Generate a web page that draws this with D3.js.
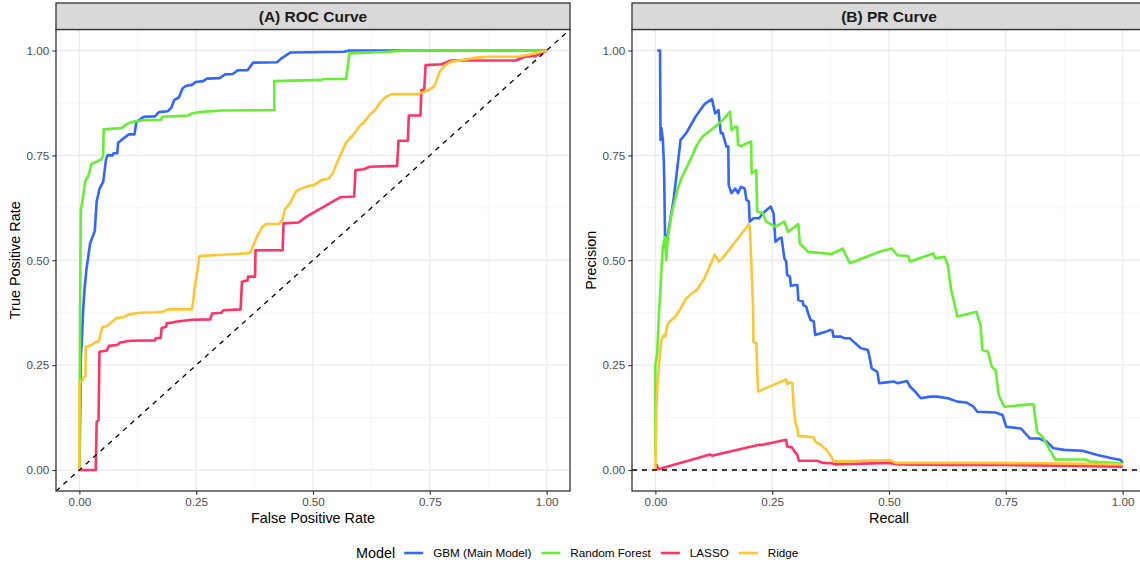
<!DOCTYPE html>
<html><head><meta charset="utf-8">
<script src="https://cdn.jsdelivr.net/npm/d3@7"></script>
<style>body{margin:0;background:#fff}svg{display:block}text{font-family:"Liberation Sans",Arial,sans-serif}</style>
</head><body><svg id="c" width="1140" height="566"></svg>
<script>
// ---------- data ----------
const models = ["GBM (Main Model)", "Random Forest", "LASSO", "Ridge"];
const colors = ["#3366FF", "#66EE33", "#FF3366", "#FFC533"];
const ticks = [0, 0.25, 0.5, 0.75, 1];
const tickLabels = ["0.00", "0.25", "0.50", "0.75", "1.00"];

const rocGBM = [[0,0],[0.002,0.15],[0.003,0.27],[0.005,0.30],[0.008,0.38],[0.011,0.43],[0.015,0.477],[0.023,0.54],[0.033,0.57],[0.037,0.64],[0.043,0.67],[0.051,0.687],[0.057,0.74],[0.060,0.75],[0.071,0.75],[0.073,0.755],[0.081,0.755],[0.083,0.78],[0.094,0.79],[0.106,0.80],[0.118,0.80],[0.122,0.83],[0.138,0.842],[0.162,0.843],[0.170,0.853],[0.189,0.855],[0.197,0.864],[0.203,0.882],[0.213,0.888],[0.221,0.91],[0.229,0.916],[0.241,0.918],[0.249,0.925],[0.265,0.927],[0.273,0.933],[0.300,0.934],[0.312,0.943],[0.328,0.944],[0.340,0.953],[0.360,0.953],[0.372,0.971],[0.423,0.972],[0.431,0.98],[0.451,0.995],[0.566,0.997],[0.578,1.0],[1,1]];
const rocRF = [[0,0],[0.001,0.2],[0.002,0.45],[0.003,0.62],[0.007,0.644],[0.013,0.69],[0.019,0.70],[0.026,0.73],[0.037,0.735],[0.047,0.74],[0.051,0.75],[0.052,0.812],[0.090,0.815],[0.102,0.825],[0.114,0.83],[0.138,0.834],[0.174,0.835],[0.178,0.842],[0.233,0.845],[0.241,0.85],[0.257,0.853],[0.304,0.857],[0.417,0.858],[0.417,0.927],[0.518,0.93],[0.522,0.932],[0.571,0.932],[0.578,0.993],[0.660,0.997],[0.700,1.0],[1,1]];
const rocLASSO = [[0,0],[0.035,0.0],[0.037,0.115],[0.041,0.118],[0.043,0.282],[0.059,0.285],[0.063,0.296],[0.081,0.298],[0.087,0.304],[0.110,0.308],[0.162,0.309],[0.163,0.314],[0.174,0.315],[0.176,0.338],[0.186,0.342],[0.187,0.35],[0.201,0.352],[0.209,0.354],[0.241,0.358],[0.280,0.359],[0.284,0.373],[0.304,0.375],[0.308,0.381],[0.345,0.383],[0.348,0.449],[0.360,0.452],[0.361,0.461],[0.376,0.461],[0.377,0.524],[0.435,0.524],[0.437,0.588],[0.469,0.59],[0.486,0.604],[0.558,0.65],[0.588,0.652],[0.591,0.715],[0.609,0.717],[0.621,0.723],[0.680,0.725],[0.683,0.785],[0.703,0.785],[0.705,0.845],[0.730,0.845],[0.732,0.906],[0.738,0.907],[0.741,0.965],[0.775,0.967],[0.795,0.976],[0.934,0.976],[0.953,0.985],[0.977,0.987],[1,1]];
const rocRidge = [[0,0],[0.0,0.207],[0.005,0.211],[0.010,0.222],[0.013,0.224],[0.0137,0.294],[0.027,0.298],[0.033,0.304],[0.041,0.306],[0.045,0.322],[0.049,0.34],[0.059,0.343],[0.067,0.351],[0.079,0.362],[0.094,0.364],[0.106,0.371],[0.130,0.375],[0.162,0.376],[0.178,0.377],[0.189,0.383],[0.241,0.383],[0.243,0.397],[0.247,0.437],[0.253,0.477],[0.257,0.51],[0.273,0.511],[0.304,0.513],[0.336,0.515],[0.364,0.517],[0.368,0.524],[0.380,0.556],[0.392,0.58],[0.400,0.586],[0.427,0.587],[0.435,0.596],[0.439,0.62],[0.451,0.636],[0.463,0.663],[0.471,0.669],[0.490,0.677],[0.502,0.679],[0.518,0.691],[0.534,0.695],[0.542,0.707],[0.554,0.739],[0.570,0.779],[0.589,0.803],[0.601,0.822],[0.609,0.828],[0.621,0.846],[0.633,0.858],[0.645,0.878],[0.657,0.89],[0.669,0.896],[0.724,0.896],[0.748,0.906],[0.760,0.915],[0.771,0.949],[0.783,0.965],[0.795,0.973],[0.819,0.977],[0.850,0.983],[0.874,0.985],[0.938,0.985],[0.961,0.99],[1,1]];

const prGBM = [[0.004,1.0],[0.010,1.0],[0.011,0.787],[0.013,0.815],[0.016,0.787],[0.018,0.739],[0.019,0.69],[0.021,0.532],[0.027,0.564],[0.039,0.644],[0.054,0.787],[0.066,0.803],[0.086,0.842],[0.105,0.872],[0.121,0.884],[0.128,0.85],[0.135,0.858],[0.140,0.803],[0.144,0.803],[0.152,0.771],[0.156,0.771],[0.157,0.679],[0.163,0.66],[0.171,0.671],[0.177,0.66],[0.183,0.675],[0.191,0.671],[0.195,0.644],[0.200,0.640],[0.202,0.592],[0.210,0.6],[0.222,0.6],[0.230,0.612],[0.247,0.628],[0.253,0.612],[0.257,0.544],[0.265,0.552],[0.270,0.554],[0.276,0.505],[0.280,0.497],[0.282,0.465],[0.288,0.461],[0.290,0.439],[0.300,0.441],[0.304,0.441],[0.306,0.405],[0.315,0.402],[0.317,0.393],[0.323,0.389],[0.327,0.373],[0.332,0.358],[0.339,0.354],[0.342,0.322],[0.354,0.326],[0.366,0.330],[0.374,0.334],[0.379,0.332],[0.381,0.318],[0.397,0.318],[0.405,0.314],[0.416,0.314],[0.424,0.306],[0.432,0.298],[0.440,0.29],[0.455,0.286],[0.459,0.266],[0.463,0.242],[0.475,0.234],[0.479,0.207],[0.494,0.209],[0.510,0.211],[0.518,0.207],[0.539,0.212],[0.545,0.199],[0.556,0.187],[0.568,0.171],[0.588,0.175],[0.603,0.175],[0.626,0.171],[0.646,0.163],[0.665,0.161],[0.681,0.151],[0.689,0.139],[0.728,0.137],[0.743,0.131],[0.751,0.103],[0.782,0.099],[0.802,0.075],[0.821,0.075],[0.837,0.068],[0.852,0.052],[0.875,0.048],[0.914,0.046],[0.946,0.036],[0.977,0.028],[0.996,0.024],[1.0,0.016]];
const prRF = [[0,0.03],[0,0.25],[0.004,0.278],[0.008,0.381],[0.010,0.413],[0.013,0.477],[0.016,0.532],[0.021,0.556],[0.023,0.5],[0.027,0.556],[0.035,0.612],[0.047,0.667],[0.057,0.699],[0.066,0.719],[0.078,0.747],[0.089,0.775],[0.101,0.795],[0.128,0.818],[0.144,0.834],[0.160,0.854],[0.163,0.81],[0.171,0.818],[0.175,0.818],[0.177,0.775],[0.183,0.772],[0.205,0.783],[0.206,0.707],[0.216,0.715],[0.218,0.616],[0.230,0.612],[0.237,0.592],[0.257,0.58],[0.276,0.592],[0.284,0.568],[0.306,0.586],[0.309,0.54],[0.327,0.52],[0.377,0.515],[0.401,0.528],[0.409,0.509],[0.416,0.493],[0.479,0.52],[0.506,0.528],[0.518,0.512],[0.541,0.51],[0.545,0.497],[0.595,0.516],[0.599,0.505],[0.619,0.508],[0.626,0.489],[0.630,0.453],[0.633,0.429],[0.640,0.397],[0.646,0.366],[0.687,0.377],[0.696,0.346],[0.700,0.286],[0.712,0.282],[0.720,0.246],[0.728,0.238],[0.735,0.179],[0.743,0.159],[0.747,0.151],[0.809,0.157],[0.817,0.091],[0.829,0.079],[0.844,0.048],[0.856,0.025],[0.922,0.025],[0.930,0.02],[1.0,0.016]];
const prLASSO = [[0,0],[0.003,0.012],[0.006,0.002],[0.117,0.037],[0.121,0.034],[0.222,0.06],[0.230,0.06],[0.280,0.072],[0.282,0.056],[0.292,0.054],[0.298,0.044],[0.304,0.036],[0.307,0.022],[0.346,0.022],[0.358,0.017],[0.377,0.016],[0.385,0.0135],[0.502,0.017],[0.518,0.0135],[0.634,0.012],[0.751,0.012],[0.907,0.01],[1.0,0.008]];
const prRidge = [[0,0],[0.002,0.143],[0.005,0.215],[0.010,0.278],[0.013,0.31],[0.018,0.322],[0.021,0.318],[0.026,0.346],[0.031,0.354],[0.043,0.366],[0.054,0.385],[0.066,0.409],[0.078,0.421],[0.089,0.429],[0.105,0.457],[0.113,0.477],[0.127,0.513],[0.136,0.497],[0.144,0.505],[0.200,0.586],[0.202,0.58],[0.206,0.477],[0.209,0.389],[0.210,0.306],[0.216,0.302],[0.218,0.242],[0.220,0.187],[0.253,0.203],[0.280,0.216],[0.282,0.205],[0.288,0.209],[0.293,0.207],[0.296,0.151],[0.300,0.111],[0.304,0.099],[0.306,0.081],[0.331,0.079],[0.339,0.078],[0.342,0.068],[0.354,0.06],[0.366,0.048],[0.374,0.036],[0.381,0.022],[0.389,0.02],[0.502,0.024],[0.514,0.017],[0.673,0.017],[0.829,0.016],[1.0,0.0135]];

const panels = [
  {title: "(A) ROC Curve", xTitle: "False Positive Rate", yTitle: "True Positive Rate", series: [rocGBM, rocRF, rocLASSO, rocRidge], ref: "diag"},
  {title: "(B) PR Curve", xTitle: "Recall", yTitle: "Precision", series: [prGBM, prRF, prLASSO, prRidge], ref: "zero"}
];

// ---------- layout ----------
const svg = d3.select("#c");
const stripTop = 3, panelTop = 29.5, panelBottom = 491;
const panelX = [[56, 570], [632, 1146]];
const dark = "#333333", tickCol = "#4D4D4D";

panels.forEach((p, i) => {
  const [x0, x1] = panelX[i];
  const x = d3.scaleLinear().domain([-0.05, 1.05]).range([x0, x1]);
  const y = d3.scaleLinear().domain([-0.05, 1.05]).range([panelBottom, panelTop]);
  const g = svg.append("g");
  const clipId = "clip" + i;
  svg.append("clipPath").attr("id", clipId).append("rect")
    .attr("x", x0).attr("y", panelTop).attr("width", x1 - x0).attr("height", panelBottom - panelTop);

  // grid
  const minor = [0.125, 0.375, 0.625, 0.875];
  g.selectAll(".mgx").data(minor).join("line").attr("x1", d => x(d)).attr("x2", d => x(d))
    .attr("y1", panelTop).attr("y2", panelBottom).attr("stroke", "#F2F2F2").attr("stroke-width", 0.7);
  g.selectAll(".mgy").data(minor).join("line").attr("y1", d => y(d)).attr("y2", d => y(d))
    .attr("x1", x0).attr("x2", x1).attr("stroke", "#F2F2F2").attr("stroke-width", 0.7);
  g.selectAll(".gx").data(ticks).join("line").attr("x1", d => x(d)).attr("x2", d => x(d))
    .attr("y1", panelTop).attr("y2", panelBottom).attr("stroke", "#EBEBEB").attr("stroke-width", 1.3);
  g.selectAll(".gy").data(ticks).join("line").attr("y1", d => y(d)).attr("y2", d => y(d))
    .attr("x1", x0).attr("x2", x1).attr("stroke", "#EBEBEB").attr("stroke-width", 1.3);

  // curves
  const line = d3.line().x(d => x(d[0])).y(d => y(d[1]));
  const cg = g.append("g").attr("clip-path", `url(#${clipId})`);
  p.series.forEach((s, k) => {
    cg.append("path").datum(s).attr("d", line).attr("fill", "none")
      .attr("stroke", colors[k]).attr("stroke-width", 2.6).attr("stroke-linejoin", "round");
  });
  // reference line
  const refPts = p.ref === "diag" ? [[-0.05, -0.05], [1.05, 1.05]] : [[-0.05, 0], [1.05, 0]];
  cg.append("path").datum(refPts).attr("d", line).attr("fill", "none")
    .attr("stroke", "#000").attr("stroke-width", 1.3).attr("stroke-dasharray", "5,5");

  // border
  g.append("rect").attr("x", x0).attr("y", panelTop).attr("width", x1 - x0).attr("height", panelBottom - panelTop)
    .attr("fill", "none").attr("stroke", dark).attr("stroke-width", 1.3);
  // strip
  g.append("rect").attr("x", x0).attr("y", stripTop).attr("width", x1 - x0).attr("height", panelTop - stripTop)
    .attr("fill", "#D9D9D9").attr("stroke", dark).attr("stroke-width", 1.3);
  g.append("text").attr("x", (x0 + x1) / 2).attr("y", (stripTop + panelTop) / 2).attr("dy", "0.36em")
    .attr("text-anchor", "middle").attr("font-size", 15.5).attr("font-weight", "bold").attr("fill", "#1A1A1A").text(p.title);

  // axes
  const xa = g.append("g").attr("transform", `translate(0,${panelBottom})`)
    .call(d3.axisBottom(x).tickValues(ticks).tickFormat((d, j) => tickLabels[j]).tickSize(3.7).tickPadding(3));
  const ya = g.append("g").attr("transform", `translate(${x0},0)`)
    .call(d3.axisLeft(y).tickValues(ticks).tickFormat((d, j) => tickLabels[j]).tickSize(3.7).tickPadding(3));
  [xa, ya].forEach(a => {
    a.select(".domain").remove();
    a.selectAll(".tick line").attr("stroke", dark).attr("stroke-width", 1.1);
    a.selectAll(".tick text").attr("fill", tickCol).attr("font-size", 11.7).attr("font-family", '"Liberation Sans",Arial,sans-serif');
  });

  g.append("text").attr("x", (x(0) + x(1)) / 2).attr("y", 523).attr("text-anchor", "middle")
    .attr("font-size", 14.4).attr("fill", "#000").text(p.xTitle);
  const yc = (y(0) + y(1)) / 2;
  const ytx = x0 - 41;
  g.append("text").attr("transform", `translate(${ytx},${yc}) rotate(-90)`).attr("text-anchor", "middle")
    .attr("dy", "0.36em").attr("font-size", 14.4).attr("fill", "#000").text(p.yTitle);
});

// ---------- legend ----------
const lg = svg.append("g").attr("transform", "translate(0,553)");
let cx = 356;
const lt = lg.append("text").attr("x", cx).attr("y", 0).attr("dy", "0.36em").attr("font-size", 14.4).text("Model");
cx += lt.node().getComputedTextLength() + 9;
models.forEach((m, k) => {
  lg.append("line").attr("x1", cx).attr("x2", cx + 19).attr("y1", 0).attr("y2", 0)
    .attr("stroke", colors[k]).attr("stroke-width", 2.6);
  const t = lg.append("text").attr("x", cx + 29).attr("y", 0).attr("dy", "0.36em").attr("font-size", 11.7).text(m);
  cx += 29 + t.node().getComputedTextLength() + 10;
});
</script></body></html>
